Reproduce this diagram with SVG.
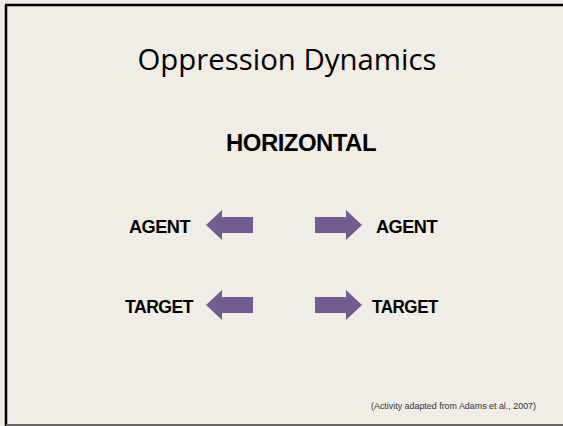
<svg xmlns="http://www.w3.org/2000/svg" width="563" height="426" viewBox="0 0 563 426">
<style>
.lbl{font-family:"Liberation Sans",Arial,sans-serif;font-weight:bold;fill:#000;letter-spacing:-0.5px}
.arrow{fill:#735C8F}
</style>
<defs>
<polygon id="ar" points="0,-8 31,-8 31,-15 47,0 31,15 31,8 0,8"/>
</defs>
<rect x="0" y="0" width="563" height="426" fill="#F0EDE6"/>
<line x1="5" y1="5" x2="563" y2="5" stroke="#000" stroke-width="2.5"/>
<line x1="6" y1="5" x2="6" y2="426" stroke="#000" stroke-width="2.5"/>
<line x1="6" y1="425" x2="563" y2="425" stroke="#666" stroke-width="2"/>
<g id="title"><text x="287" y="70" text-anchor="middle" font-family="'Open Sans','Noto Sans',sans-serif" font-size="29" fill="#000" textLength="299" lengthAdjust="spacingAndGlyphs">Oppression Dynamics</text></g>
<g id="horizontal"><text class="lbl" x="226" y="151" font-size="24" textLength="150" lengthAdjust="spacingAndGlyphs">HORIZONTAL</text></g>
<g id="agent-left"><text class="lbl" x="129" y="233" font-size="18" textLength="61" lengthAdjust="spacingAndGlyphs">AGENT</text></g>
<g id="agent-right"><text class="lbl" x="376" y="233" font-size="18" textLength="61" lengthAdjust="spacingAndGlyphs">AGENT</text></g>
<g id="target-left"><text class="lbl" x="125" y="313" font-size="18" textLength="68" lengthAdjust="spacingAndGlyphs">TARGET</text></g>
<g id="target-right"><text class="lbl" x="372" y="313" font-size="18" textLength="66" lengthAdjust="spacingAndGlyphs">TARGET</text></g>
<g id="connectors">
<use href="#ar" class="arrow" transform="translate(253,225) scale(-1,1)"/>
<use href="#ar" class="arrow" transform="translate(315,225)"/>
<use href="#ar" class="arrow" transform="translate(253,305) scale(-1,1)"/>
<use href="#ar" class="arrow" transform="translate(315,305)"/>
</g>
<g id="footer"><text x="371" y="409" font-family="'Liberation Sans',Arial,sans-serif" font-size="8.5" fill="#333" textLength="165" lengthAdjust="spacingAndGlyphs">(Activity adapted from Adams et al., 2007)</text></g>
</svg>
